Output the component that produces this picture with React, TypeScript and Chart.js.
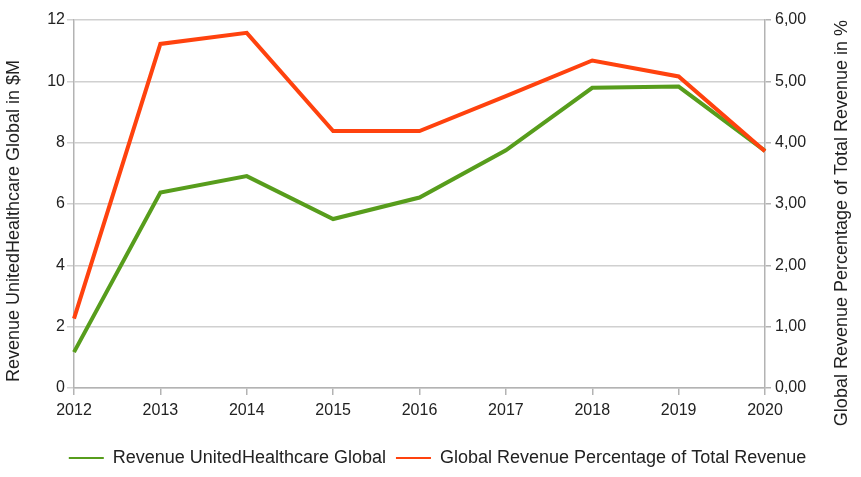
import React, { useEffect, useRef } from "react";
import { Chart, registerables } from "chart.js";

Chart.register(...registerables);

const years = ["2012", "2013", "2014", "2015", "2016", "2017", "2018", "2019", "2020"];
const revenueGlobal = [1.17, 6.37, 6.91, 5.51, 6.21, 7.75, 9.79, 9.83, 7.73];
const revenuePercentage = [1.13, 5.61, 5.79, 4.19, 4.19, 4.76, 5.34, 5.08, 3.86];
const leftTicks = [0, 2, 4, 6, 8, 10, 12];
const rightTicks = [0, 1, 2, 3, 4, 5, 6];

const seriesNames = ["Revenue UnitedHealthcare Global", "Global Revenue Percentage of Total Revenue"];
const leftTitle = "Revenue UnitedHealthcare Global in $M";
const rightTitle = "Global Revenue Percentage of Total Revenue in %";

const GREEN = "#579D1C";
const ORANGE = "#FF420E";
const TEXT = "#222222";
const GRID = "#d0d0d0";
const AXIS = "#b3b3b3";
const FONT = '"Liberation Sans", Arial, sans-serif';

const axisTitlePlugin = {
  id: "axisTitles",
  afterDraw(chart: any) {
    const { ctx, chartArea } = chart;
    const cy = (chartArea.top + chartArea.bottom) / 2 + 17;
    ctx.save();
    ctx.font = `18px ${FONT}`;
    ctx.fillStyle = TEXT;
    ctx.textAlign = "center";
    ctx.textBaseline = "middle";
    ctx.save();
    ctx.translate(14.5, cy);
    ctx.rotate(-Math.PI / 2);
    ctx.fillText(leftTitle, 0, 0);
    ctx.restore();
    ctx.save();
    ctx.translate(chartArea.right + 77, cy + 2);
    ctx.rotate(-Math.PI / 2);
    ctx.fillText(rightTitle, 0, 0);
    ctx.restore();
    ctx.restore();
  },
};

export default function App() {
  const ref = useRef<HTMLCanvasElement | null>(null);

  useEffect(() => {
    document.body.style.margin = "0";
    const canvas = ref.current;
    if (!canvas) return;
    const chart = new Chart(canvas, {
      type: "line",
      data: {
        labels: years,
        datasets: [
          {
            label: seriesNames[0],
            data: revenueGlobal,
            borderColor: GREEN,
            backgroundColor: GREEN,
            borderWidth: 4,
            pointRadius: 0,
            tension: 0,
            yAxisID: "y",
            order: 1,
          },
          {
            label: seriesNames[1],
            data: revenuePercentage,
            borderColor: ORANGE,
            backgroundColor: ORANGE,
            borderWidth: 4,
            pointRadius: 0,
            tension: 0,
            yAxisID: "y1",
            order: 0,
          },
        ],
      },
      options: {
        responsive: false,
        animation: false,
        devicePixelRatio: 1,
        layout: { padding: { top: 20, left: 14, right: 0, bottom: 0 } },
        plugins: {
          tooltip: { enabled: false },
          legend: {
            position: "bottom",
            labels: {
              boxWidth: 35,
              boxHeight: 2,
              padding: 10,
              color: TEXT,
              font: { family: FONT, size: 18 },
              generateLabels: (chart: any) =>
                chart.data.datasets.map((ds: any, i: number) => ({
                  text: ds.label,
                  fillStyle: ds.borderColor,
                  strokeStyle: ds.borderColor,
                  lineWidth: 0,
                  hidden: false,
                  datasetIndex: i,
                  fontColor: TEXT,
                })),
            },
          },
        },
        scales: {
          x: {
            type: "category",
            offset: false,
            grid: {
              drawOnChartArea: false,
              drawTicks: true,
              tickLength: 7,
              color: AXIS,
              lineWidth: 1.5,
            },
            border: { display: true, color: AXIS, width: 1.5 },
            ticks: {
              color: TEXT,
              font: { family: FONT, size: 16 },
              padding: 6,
              autoSkip: false,
              maxRotation: 0,
            },
            afterFit: (scale: any) => {
              scale.height = 51;
            },
          },
          y: {
            position: "left",
            min: leftTicks[0],
            max: leftTicks[leftTicks.length - 1],
            grid: {
              color: GRID,
              lineWidth: 1.5,
              drawTicks: true,
              tickLength: 7,
            },
            border: { display: true, color: AXIS, width: 1.5 },
            ticks: {
              stepSize: leftTicks[1] - leftTicks[0],
              color: TEXT,
              font: { family: FONT, size: 16 },
              padding: 2,
            },
            afterFit: (scale: any) => {
              scale.width = 60;
            },
          },
          y1: {
            position: "right",
            min: rightTicks[0],
            max: rightTicks[rightTicks.length - 1],
            grid: {
              drawOnChartArea: false,
              drawTicks: true,
              tickLength: 6,
              color: AXIS,
              lineWidth: 1.5,
            },
            border: { display: true, color: AXIS, width: 1.5 },
            ticks: {
              stepSize: rightTicks[1] - rightTicks[0],
              color: TEXT,
              font: { family: FONT, size: 16 },
              padding: 4,
              callback: (v: any) => Number(v).toFixed(2).replace(".", ","),
            },
            afterFit: (scale: any) => {
              scale.width = 96;
            },
          },
        },
      },
      plugins: [axisTitlePlugin],
    });
    return () => chart.destroy();
  }, []);

  return (
    <div style={{ position: "absolute", left: 0, top: 0, width: 861, height: 477, background: "#fff" }}>
      <canvas ref={ref} width={861} height={477} />
    </div>
  );
}
